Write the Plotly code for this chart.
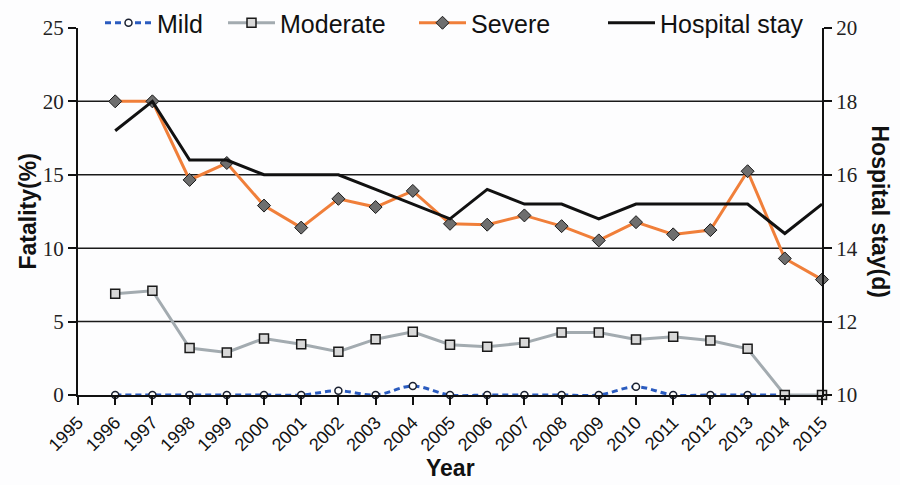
import plotly.graph_objects as go

years = list(range(1996, 2016))
mild_years = list(range(1996, 2015))
mild = [0, 0, 0, 0, 0, 0, 0.29, 0, 0.61, 0, 0, 0, 0, 0, 0.56, 0, 0, 0, 0]
moderate = [6.9, 7.1, 3.2, 2.9, 3.85, 3.45, 2.95, 3.8, 4.3, 3.42,
            3.28, 3.55, 4.26, 4.26, 3.78, 3.96, 3.71, 3.15, 0, 0]
severe = [20, 20, 14.65, 15.8, 12.9, 11.4, 13.36, 12.8, 13.9, 11.66,
          11.6, 12.23, 11.5, 10.53, 11.77, 10.94, 11.23, 15.24, 9.3, 7.86]
hospital = [17.2, 18, 16.4, 16.4, 16, 16, 16, 15.6, 15.2, 14.8,
            15.6, 15.2, 15.2, 14.8, 15.2, 15.2, 15.2, 15.2, 14.4, 15.2]
year_ticks = list(range(1995, 2016))
left_ticks = [0, 5, 10, 15, 20, 25]
right_ticks = [10, 12, 14, 16, 18, 20]

W, H = 900, 485
PL, PR, PT, PB = 78, 78, 27, 90   # target plot box (pixels)
PW = W - PL - PR
PAPER_H = H - PB                   # paper spans from top of page down to plot bottom
PH = H - PT - PB

fig = go.Figure()
fig.add_trace(go.Scatter(
    x=mild_years, y=mild, name="Mild", mode="lines+markers",
    line=dict(color="#2a5bbf", width=3, dash="6px,4px", shape="spline"),
    marker=dict(symbol="circle", size=7, color="white", line=dict(color="#1a2030", width=1.5)),
    legend="legend", cliponaxis=False))
fig.add_trace(go.Scatter(
    x=years, y=moderate, name="Moderate", mode="lines+markers",
    line=dict(color="#a3abb0", width=3),
    marker=dict(symbol="square", size=9, color="#d8d8d8", line=dict(color="#1a1a1a", width=1.5)),
    legend="legend2", cliponaxis=False))
fig.add_trace(go.Scatter(
    x=years, y=severe, name="Severe", mode="lines+markers",
    line=dict(color="#f07f3a", width=3),
    marker=dict(symbol="diamond", size=10, color="#6e6e6e", line=dict(color="#1a1a1a", width=1)),
    legend="legend3", cliponaxis=False))
fig.add_trace(go.Scatter(
    x=years, y=hospital, name="Hospital stay", mode="lines",
    line=dict(color="#111111", width=3),
    yaxis="y2", legend="legend4", cliponaxis=False))

legfont = dict(family="Liberation Sans", size=25, color="#111")
def leg(xpx):
    return dict(xref="paper", yref="paper", x=(xpx - PL) / PW, y=(PAPER_H - 22) / PAPER_H,
                xanchor="left", yanchor="middle", orientation="h", itemwidth=47,
                font=legfont, bgcolor="rgba(0,0,0,0)", borderwidth=0)

ydom = [0, PH / PAPER_H]
fig.update_layout(
    width=W, height=H,
    margin=dict(l=PL, r=PR, t=0, b=PB, pad=0),
    paper_bgcolor="#fdfdfe", plot_bgcolor="#fdfdfe",
    showlegend=True,
    legend=leg(100), legend2=leg(223), legend3=leg(414), legend4=leg(603),
    xaxis=dict(range=[1995, 2015], tickvals=year_ticks, ticktext=[str(y) for y in year_ticks],
               tickangle=-45, ticks="outside", ticklen=8, tickcolor="#111", tickwidth=1.5,
               showline=True, linecolor="#111", linewidth=2, showgrid=False, zeroline=False,
               automargin=False,
               tickfont=dict(family="Liberation Sans", size=18, color="#111")),
    yaxis=dict(range=[0, 25], domain=ydom, tickvals=left_ticks, ticks="outside", ticklen=8,
               tickcolor="#111", tickwidth=1.5, showline=True, linecolor="#111", linewidth=2,
               showgrid=False, zeroline=False, automargin=False,
               tickfont=dict(family="Liberation Serif", size=21, color="#222")),
    yaxis2=dict(range=[10, 20], domain=ydom, tickvals=right_ticks, overlaying="y", side="right",
                ticks="outside", ticklen=8, tickcolor="#111", tickwidth=1.5,
                showline=True, linecolor="#111", linewidth=2, showgrid=False, zeroline=False,
                automargin=False,
                tickfont=dict(family="Liberation Serif", size=21, color="#222")),
)

for v in [5, 10, 15, 20]:
    fig.add_shape(type="line", xref="paper", yref="y", x0=0, x1=1, y0=v, y1=v,
                  line=dict(color="#1a1a1a", width=1.5), layer="below")

def py(ypx):
    return (PAPER_H - ypx) / PAPER_H

titlefont = dict(family="Liberation Sans", size=23, color="#111")
fig.add_annotation(text="<b>Fatality(%)</b>", xref="paper", yref="paper", x=(28 - PL) / PW, y=py(211),
                   textangle=-90, showarrow=False, font=titlefont, xanchor="center", yanchor="middle")
fig.add_annotation(text="<b>Hospital stay(d)</b>", xref="paper", yref="paper", x=(880 - PL) / PW, y=py(211),
                   textangle=90, showarrow=False, font=titlefont, xanchor="center", yanchor="middle")
fig.add_annotation(text="<b>Year</b>", xref="paper", yref="paper", x=0.5, y=py(468),
                   showarrow=False, font=titlefont, xanchor="center", yanchor="middle")

fig.write_html("out.html", config={"displayModeBar": False},
               post_script="document.body.style.margin='0';")
